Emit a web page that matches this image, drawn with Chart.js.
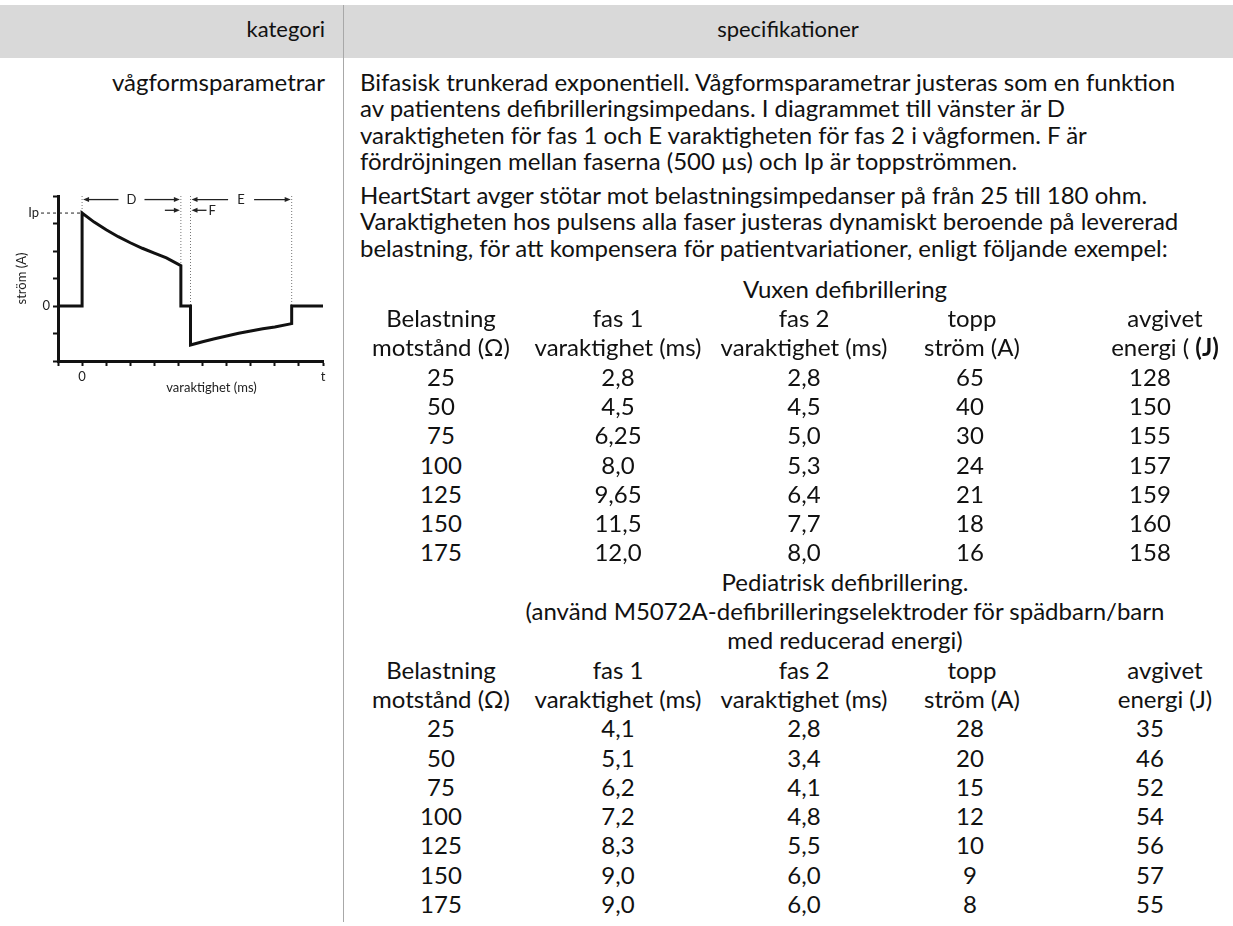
<!DOCTYPE html>
<html lang="sv">
<head>
<meta charset="utf-8">
<title>vågformsparametrar</title>
<script src="https://cdn.jsdelivr.net/npm/chart.js@4.4.1/dist/chart.umd.min.js"></script>
<style>
  html, body { margin: 0; padding: 0; background: #fff; }
  body { width: 1233px; height: 926px; position: relative; overflow: hidden;
         font-family: Lato, "Open Sans", sans-serif; color: #111; }
  #head { position: absolute; left: 0; top: 5px; width: 1233px; height: 53px; background: #d9d9d9; }
  #sep { position: absolute; left: 343px; top: 5px; width: 1px; height: 917px; background: #a8a8a8; }
  .ln { position: absolute; white-space: nowrap; }
  #wave { position: absolute; left: 0; top: 180px; }
</style>
</head>
<body>
<div id="head"></div>
<div id="sep"></div>
<canvas id="wave" width="345" height="225"></canvas>
<script>
// waveform (x in time ticks, y in current ticks)
const waveTime    = [-1, 0, 0,    0.5,  1,    1.5,  2,    2.5,  3,    3.5,  4.1,  4.1, 4.5, 4.5,   5,     5.5,   6,     6.5,   7,     7.5,   8,     8.7,   8.7, 10];
const waveCurrent = [ 0, 0, 3.38, 3.05, 2.77, 2.52, 2.30, 2.10, 1.92, 1.75, 1.47, 0,   0,   -1.42, -1.30, -1.19, -1.09, -0.99, -0.91, -0.83, -0.76, -0.64, 0,   0];
const markerTimes = [0, 4.1, 4.5, 8.7];
const markerEnds  = [3.38, 1.47, 0, 0];
const peakCurrent = 3.38;

// table values
const resistance = ["25", "50", "75", "100", "125", "150", "175"];
const adultPhase1 = ["2,8", "4,5", "6,25", "8,0", "9,65", "11,5", "12,0"];
const adultPhase2 = ["2,8", "4,5", "5,0", "5,3", "6,4", "7,7", "8,0"];
const adultPeak   = ["65", "40", "30", "24", "21", "18", "16"];
const adultEnergy = ["128", "150", "155", "157", "159", "160", "158"];
const pedPhase1 = ["4,1", "5,1", "6,2", "7,2", "8,3", "9,0", "9,0"];
const pedPhase2 = ["2,8", "3,4", "4,1", "4,8", "5,5", "6,0", "6,0"];
const pedPeak   = ["28", "20", "15", "12", "10", "9", "8"];
const pedEnergy = ["35", "46", "52", "54", "56", "57", "55"];

const para1 = [
  "Bifasisk trunkerad exponentiell. Vågformsparametrar justeras som en funktion",
  "av patientens defibrilleringsimpedans. I diagrammet till vänster är D",
  "varaktigheten för fas 1 och E varaktigheten för fas 2 i vågformen. F är",
  "fördröjningen mellan faserna (500 µs) och Ip är toppströmmen."
];
const para2 = [
  "HeartStart avger stötar mot belastningsimpedanser på från 25 till 180 ohm.",
  "Varaktigheten hos pulsens alla faser justeras dynamiskt beroende på levererad",
  "belastning, för att kompensera för patientvariationer, enligt följande exempel:"
];

const dataX = [441, 618, 804, 970, 1150];
const headX = [441, 618, 804, 972, 1165];

function put(html, x, base, align, size) {
  size = size || 24;
  const d = document.createElement("div");
  d.className = "ln";
  d.innerHTML = html;
  d.style.fontSize = size + "px";
  d.style.lineHeight = size + "px";
  d.style.top = (base - 0.887 * size) + "px";
  if (align === "right") { d.style.left = (x - 500) + "px"; d.style.width = "500px"; d.style.textAlign = "right"; }
  else if (align === "center") { d.style.left = (x - 400) + "px"; d.style.width = "800px"; d.style.textAlign = "center"; }
  else d.style.left = x + "px";
  document.body.appendChild(d);
}
function row(cells, base, xs) {
  cells.forEach((c, i) => put(c, xs[i], base, "center"));
}

put("kategori", 325, 38, "right", 22);
put("specifikationer", 788, 38, "center", 22);
put("vågformsparametrar", 325, 91, "right");

para1.forEach((t, i) => put(t, 360, 91 + i * 26.5, "left"));
para2.forEach((t, i) => put(t, 360, 204 + i * 26.5, "left"));

const step = 29.3;
let b = 298;
const mid = 845;
put("Vuxen defibrillering", mid, b, "center"); b += step;
row(["Belastning", "fas 1", "fas 2", "topp", "avgivet"], b, headX); b += step;
row(["motstånd (Ω)", "varaktighet (ms)", "varaktighet (ms)", "ström (A)", "energi ( <b>(J)</b>"], b, headX); b += step;
resistance.forEach((r, i) => { row([r, adultPhase1[i], adultPhase2[i], adultPeak[i], adultEnergy[i]], b, dataX); b += step; });
put("Pediatrisk defibrillering.", mid, b, "center"); b += step;
put("(använd M5072A-defibrilleringselektroder för spädbarn/barn", mid, b, "center"); b += step;
put("med reducerad energi)", mid, b, "center"); b += step;
row(["Belastning", "fas 1", "fas 2", "topp", "avgivet"], b, headX); b += step;
row(["motstånd (Ω)", "varaktighet (ms)", "varaktighet (ms)", "ström (A)", "energi (J)"], b, headX); b += step;
resistance.forEach((r, i) => { row([r, pedPhase1[i], pedPhase2[i], pedPeak[i], pedEnergy[i]], b, dataX); b += step; });

// waveform chart
const wavePoints = waveTime.map((t, i) => ({ x: t, y: waveCurrent[i] }));
const markerPoints = [];
markerTimes.forEach((t, i) => {
  markerPoints.push({ x: t, y: 4 }, { x: t, y: markerEnds[i] }, { x: t, y: null });
});

const annotate = {
  id: "annotate",
  afterDatasetsDraw(chart) {
    const ctx = chart.ctx, sx = chart.scales.x, sy = chart.scales.y;
    const px = v => sx.getPixelForValue(v), py = v => sy.getPixelForValue(v);
    ctx.save();
    ctx.strokeStyle = "#222";
    ctx.fillStyle = "#222";
    ctx.lineWidth = 1.3;
    ctx.font = "13px Lato, sans-serif";
    ctx.textBaseline = "middle";
    function arrow(from, to, y) {
      const dir = Math.sign(to - from);
      ctx.beginPath(); ctx.moveTo(from, y); ctx.lineTo(to - dir * 4, y); ctx.stroke();
      ctx.beginPath(); ctx.moveTo(to, y); ctx.lineTo(to - dir * 6, y - 2.5); ctx.lineTo(to - dir * 6, y + 2.5); ctx.closePath(); ctx.fill();
    }
    function span(a, b2, label, yv) {
      const xa = px(a), xb = px(b2), m = (xa + xb) / 2, y = py(yv);
      arrow(m - 13, xa + 1, y);
      arrow(m + 13, xb - 1, y);
      ctx.textAlign = "center";
      ctx.fillText(label, m, y);
    }
    span(markerTimes[0], markerTimes[1], "D", 3.87);
    span(markerTimes[2], markerTimes[3], "E", 3.87);
    const yf = py(3.48);
    arrow(px(markerTimes[1]) - 16, px(markerTimes[1]) - 1, yf);
    arrow(px(markerTimes[2]) + 16, px(markerTimes[2]) + 1, yf);
    ctx.textAlign = "left";
    ctx.fillText("F", px(markerTimes[2]) + 18, yf + 1);
    // Ip level
    const yp = py(peakCurrent);
    ctx.setLineDash([3, 3]);
    ctx.lineWidth = 1;
    ctx.beginPath(); ctx.moveTo(41, yp); ctx.lineTo(px(0), yp); ctx.stroke();
    ctx.setLineDash([]);
    ctx.textAlign = "right";
    ctx.fillText("Ip", 39, yp);
    // x title
    ctx.textAlign = "center";
    ctx.fillText("varaktighet (ms)", (sx.left + sx.right) / 2 + 21, sx.bottom - 17);
    ctx.restore();
  }
};

new Chart(document.getElementById("wave"), {
  type: "line",
  data: {
    datasets: [
      { data: wavePoints, borderColor: "#111", borderWidth: 3, pointRadius: 0, tension: 0, borderJoinStyle: "miter" },
      { data: markerPoints, borderColor: "#777", borderWidth: 1, borderDash: [1, 2], pointRadius: 0, spanGaps: false }
    ]
  },
  options: {
    responsive: false,
    animation: false,
    devicePixelRatio: 1,
    layout: { padding: { top: 16, right: 22, left: 0, bottom: 0 } },
    plugins: { legend: { display: false }, tooltip: { enabled: false } },
    scales: {
      x: {
        type: "linear", min: -1, max: 10,
        afterFit: s => { s.height = 44; },
        ticks: { stepSize: 1, autoSkip: false, maxRotation: 0, padding: 3, color: "#222",
                 font: { family: "Lato", size: 13 },
                 callback: v => v === 0 ? "0" : (v === 10 ? "t" : "") },
        grid: { drawOnChartArea: false, drawTicks: true, tickLength: 5, tickWidth: 2, tickColor: "#111" },
        border: { display: true, width: 3, color: "#111" }
      },
      y: {
        type: "linear", min: -2, max: 4,
        afterFit: s => { s.width = 58; },
        ticks: { stepSize: 1, padding: 3, color: "#222", font: { family: "Lato", size: 13 },
                 callback: v => v === 0 ? "0" : "" },
        grid: { drawOnChartArea: false, drawTicks: true, tickLength: 5, tickWidth: 2, tickColor: "#111" },
        border: { display: true, width: 3, color: "#111" },
        title: { display: true, text: "ström (A)", color: "#222", font: { family: "Lato", size: 13 },
                 padding: { top: 14, bottom: 0 } }
      }
    }
  },
  plugins: [annotate]
});
</script>
</body>
</html>
